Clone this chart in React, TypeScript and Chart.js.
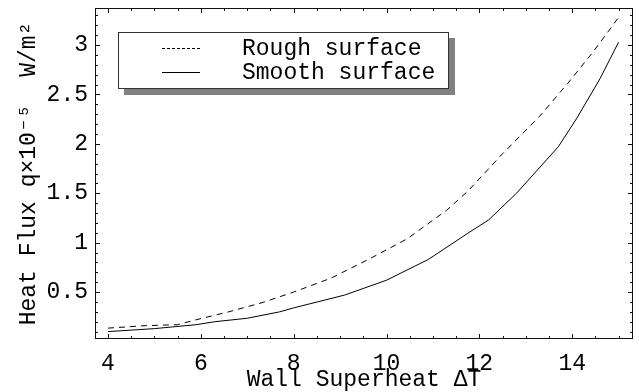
import React, { useEffect, useRef } from 'react';
import { Chart, registerables } from 'chart.js';

Chart.register(...registerables);

// ---- data ----
const smoothX = [4, 5, 5.9, 6.3, 7, 7.7, 8, 9.1, 10, 10.9, 11.8, 12.2, 12.8, 13.7, 14.1, 14.6, 15];
const smoothY = [0.1, 0.13, 0.17, 0.2, 0.235, 0.3, 0.34, 0.47, 0.62, 0.83, 1.11, 1.23, 1.5, 1.97, 2.26, 2.66, 3.03];
const roughX = [4, 4.8, 5.5, 5.9, 6.6, 7.3, 8, 8.8, 9.65, 10.45, 10.8, 11.3, 11.75, 12.5, 13.3, 13.9, 14.45, 15];
const roughY = [0.135, 0.16, 0.17, 0.22, 0.3, 0.39, 0.5, 0.64, 0.84, 1.04, 1.16, 1.33, 1.52, 1.9, 2.28, 2.61, 2.93, 3.28];

const seriesLabels = ['Rough surface', 'Smooth surface'];

const xMajorTicks = [4, 6, 8, 10, 12, 14];
const xTickLabels = ['4', '6', '8', '10', '12', '14'];
const yMajorTicks = [0.5, 1, 1.5, 2, 2.5, 3];
const yTickLabels = ['0.5', '1', '1.5', '2', '2.5', '3'];
const xMinorStep = 0.5;
const yMinorStep = 0.1;

const xTitle = 'Wall Superheat \u0394T';
const yTitle = 'Heat Flux q\u00d710\u207b\u2075  W/m\u00b2';

const FONT = "'Liberation Mono', 'Courier New', 'DejaVu Sans Mono', monospace";

const framePlugin = {
  id: 'frameTicks',
  afterDatasetsDraw(chart: any) {
    const { ctx, chartArea } = chart;
    const { left, right, top, bottom } = chartArea;
    const xs = chart.scales.x;
    const ys = chart.scales.y;
    ctx.save();
    ctx.strokeStyle = '#111';
    ctx.lineWidth = 1;
    ctx.setLineDash([]);
    ctx.strokeRect(left + 0.5, top + 0.5, right - left - 1, bottom - top - 1);

    const drawX = (v: number, len: number) => {
      const px = Math.round(xs.getPixelForValue(v)) + 0.5;
      if (px < left || px > right) return;
      ctx.beginPath();
      ctx.moveTo(px, bottom);
      ctx.lineTo(px, bottom - len);
      ctx.moveTo(px, top);
      ctx.lineTo(px, top + len);
      ctx.stroke();
    };
    const drawY = (v: number, len: number) => {
      const py = Math.round(ys.getPixelForValue(v)) + 0.5;
      if (py < top || py > bottom) return;
      ctx.beginPath();
      ctx.moveTo(left, py);
      ctx.lineTo(left + len, py);
      ctx.moveTo(right, py);
      ctx.lineTo(right - len, py);
      ctx.stroke();
    };
    const xMin = xs.min, xMax = xs.max, yMin = ys.min, yMax = ys.max;
    for (let i = Math.ceil(xMin / xMinorStep); i * xMinorStep <= xMax; i++) {
      const v = +(i * xMinorStep).toFixed(4);
      drawX(v, xMajorTicks.includes(v) ? 5 : 3);
    }
    for (let i = Math.ceil(yMin / yMinorStep); i * yMinorStep <= yMax; i++) {
      const v = +(i * yMinorStep).toFixed(4);
      drawY(v, yMajorTicks.includes(v) ? 5 : 3);
    }

    // legend with drop shadow
    const bx = 118, by = 32, bw = 331, bh = 57;
    ctx.fillStyle = '#808080';
    ctx.fillRect(bx + 6, by + 6, bw, bh);
    ctx.fillStyle = '#ffffff';
    ctx.fillRect(bx, by, bw, bh);
    ctx.strokeStyle = '#333';
    ctx.strokeRect(bx + 0.5, by + 0.5, bw - 1, bh - 1);

    const rows = [48, 72];
    chart.data.datasets.forEach((ds: any, i: number) => {
      const y = rows[i] + 0.5;
      ctx.strokeStyle = '#000';
      ctx.lineWidth = 1;
      ctx.setLineDash(i === 0 ? [3, 2] : []);
      ctx.beginPath();
      ctx.moveTo(162, y);
      ctx.lineTo(200, y);
      ctx.stroke();
      ctx.setLineDash([]);
      ctx.fillStyle = '#000';
      ctx.font = `23px ${FONT}`;
      ctx.textBaseline = 'middle';
      ctx.textAlign = 'left';
      ctx.fillText(ds.label, 242, rows[i] + 1);
    });
    ctx.restore();
  },
};

export default function App() {
  const ref = useRef<HTMLCanvasElement | null>(null);
  useEffect(() => {
    if (!ref.current) return;
    const chart = new Chart(ref.current, {
      type: 'line',
      data: {
        datasets: [
          {
            label: seriesLabels[0],
            data: roughX.map((x, i) => ({ x, y: roughY[i] })),
            borderColor: '#000',
            borderWidth: 1,
            borderDash: [6, 5],
            pointRadius: 0,
            tension: 0,
            fill: false,
          },
          {
            label: seriesLabels[1],
            data: smoothX.map((x, i) => ({ x, y: smoothY[i] })),
            borderColor: '#000',
            borderWidth: 1,
            pointRadius: 0,
            tension: 0,
            fill: false,
          },
        ],
      },
      options: {
        responsive: false,
        animation: false,
        layout: { padding: { top: 8, right: 6, left: 0, bottom: 0 } },
        plugins: {
          legend: { display: false },
          tooltip: { enabled: false },
        },
        scales: {
          x: {
            type: 'linear',
            min: 3.72,
            max: 15.31,
            grid: { display: false, drawTicks: false },
            border: { display: false },
            afterBuildTicks: (s: any) => {
              s.ticks = xMajorTicks.map((v) => ({ value: v }));
            },
            afterFit: (s: any) => {
              s.height = 53;
              s.paddingLeft = 0;
              s.paddingRight = 0;
            },
            ticks: {
              padding: 11,
              color: '#000',
              font: { family: FONT, size: 23 },
              maxRotation: 0,
              autoSkip: false,
              callback: (v: any) => xTickLabels[xMajorTicks.indexOf(v)] ?? '',
            },
            title: {
              display: true,
              text: xTitle,
              color: '#000',
              font: { family: FONT, size: 23 },
              padding: { top: 0, bottom: -2 },
            },
          },
          y: {
            type: 'linear',
            min: 0.025,
            max: 3.375,
            grid: { display: false, drawTicks: false },
            border: { display: false },
            afterBuildTicks: (s: any) => {
              s.ticks = yMajorTicks.map((v) => ({ value: v }));
            },
            afterFit: (s: any) => {
              s.width = 95;
              s.paddingTop = 0;
              s.paddingBottom = 0;
            },
            ticks: {
              padding: 7,
              color: '#000',
              font: { family: FONT, size: 23 },
              autoSkip: false,
              callback: (v: any) => yTickLabels[yMajorTicks.indexOf(v)] ?? '',
            },
            title: {
              display: true,
              text: yTitle,
              color: '#000',
              font: { family: FONT, size: 23 },
              padding: { top: 15, bottom: 0 },
            },
          },
        },
      },
      plugins: [framePlugin],
    });
    return () => chart.destroy();
  }, []);
  return (
    <div style={{ position: 'absolute', left: 0, top: 0, width: 639, height: 392, background: '#fff' }}>
      <canvas ref={ref} width={639} height={392} style={{ width: 639, height: 392 }} />
    </div>
  );
}
